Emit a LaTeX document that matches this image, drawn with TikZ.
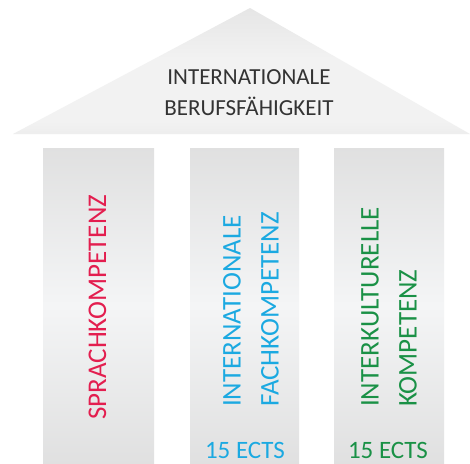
\documentclass[tikz,border=0pt]{standalone}
\usepackage{fontspec}
\setmainfont{Carlito}
\definecolor{pg}{HTML}{DCDCDC}
\definecolor{pl}{HTML}{F4F5F6}
\definecolor{rg}{HTML}{D6D6D6}
\definecolor{rl}{HTML}{F2F2F2}
\definecolor{txtgray}{HTML}{333333}
\definecolor{cred}{HTML}{E31E4F}
\definecolor{cblue}{HTML}{1BA9E1}
\definecolor{cgreen}{HTML}{1A9146}
\pgfdeclareverticalshading{pillarshade}{100bp}{color(0bp)=(pg); color(20bp)=(pg); color(50bp)=(pl); color(80bp)=(pg); color(100bp)=(pg)}
\pgfdeclareverticalshading{roofshade}{100bp}{color(0bp)=(rg); color(30bp)=(rl); color(55bp)=(rl); color(100bp)=(rg)}
\begin{document}
\begin{tikzpicture}[x=1pt,y=-1pt,
  pillar/.style={shading=pillarshade, draw=none},
  vtext/.style={rotate=90, anchor=base west, inner sep=0pt, font=\fontsize{27}{32}\selectfont},
  ects/.style={anchor=base, inner sep=0pt, font=\fontsize{25}{30}\selectfont},
  rooftext/.style={anchor=base, inner sep=0pt, text=txtgray, font=\fontsize{23}{28}\selectfont}]
\useasboundingbox (0,0) rectangle (470,463);
\fill[white] (0,0) rectangle (470,463);
% roof
\path[shading=roofshade] (13,134) -- (250,8) -- (470,134) -- cycle;
\node[rooftext] (r1) at (249,84) {INTERNATIONALE};
\node[rooftext] (r2) at (249,115) {BERUFSFÄHIGKEIT};
% pillars
\path[pillar] (43,148) rectangle (154,463);
\path[pillar] (190,148) rectangle (299,463);
\path[pillar] (334,148) rectangle (444,463);
% texts
\node[vtext, text=cred] (p1) at (106,420) {SPRACHKOMPETENZ};
\node[vtext, text=cblue] (p2a) at (240.7,407) {INTERNATIONALE};
\node[vtext, text=cblue] (p2b) at (278.7,407) {FACHKOMPETENZ};
\node[vtext, text=cgreen] (p3a) at (378.7,407) {INTERKULTURELLE};
\node[vtext, text=cgreen] (p3b) at (416.7,407) {KOMPETENZ};
\node[ects, text=cblue] (e2) at (245,458) {15 ECTS};
\node[ects, text=cgreen] (e3) at (388,458) {15 ECTS};
\end{tikzpicture}
\end{document}
